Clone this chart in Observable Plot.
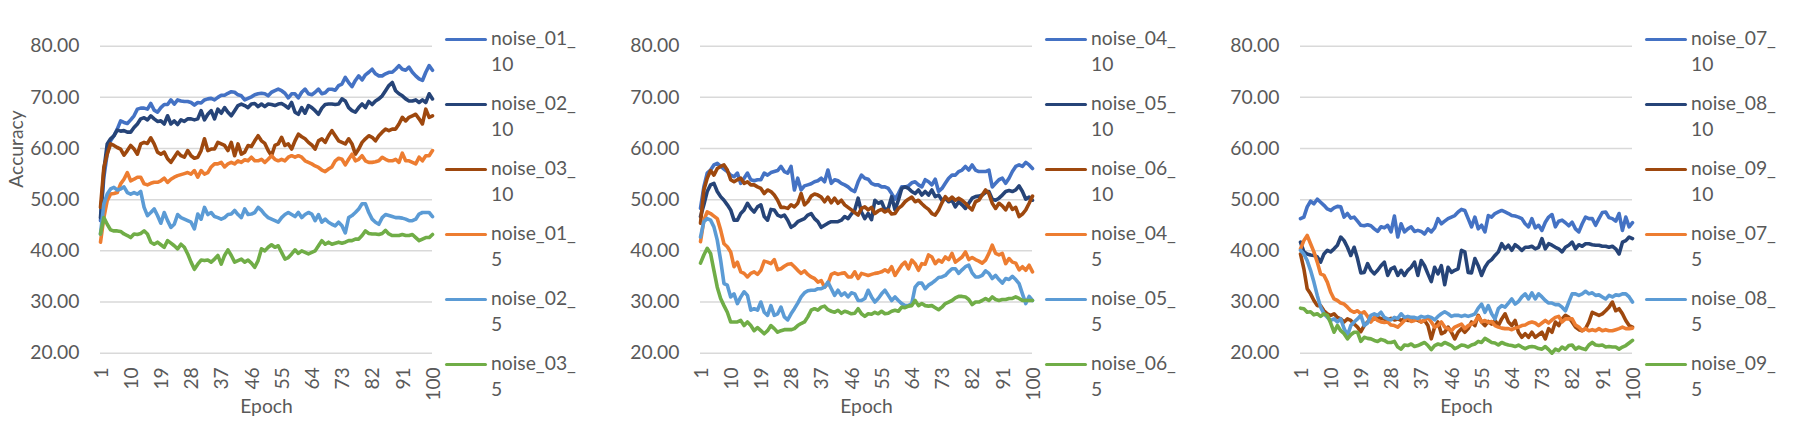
<!DOCTYPE html>
<html>
<head>
<meta charset="utf-8">
<script src="https://cdn.jsdelivr.net/npm/d3@7"></script>
<script src="https://cdn.jsdelivr.net/npm/@observablehq/plot@0.6"></script>
<style>
  html, body { margin: 0; padding: 0; background: #ffffff; }
  #wrap { position: relative; width: 1800px; height: 422px; display: flex; }
  .panel { position: relative; width: 600px; height: 422px; flex: none; }
  .panel svg { position: absolute; left: 0; top: 0; }
  .legend { position: absolute; left: 445px; top: 0; width: 155px; height: 422px; }
  .item { position: absolute; left: 0; width: 155px; height: 60px; }
  .sw { position: absolute; left: 0; top: 13px; width: 42px; height: 3.6px; border-radius: 2px; }
  .lab { position: absolute; left: 46px; top: 0; font-family: Lato, sans-serif; font-size: 19.3px; line-height: 26.5px; color: #595959; white-space: nowrap; }
</style>
</head>
<body>
<div id="wrap"></div>
<script>
const yTicks = [20, 30, 40, 50, 60, 70, 80];
const xTicks = [1, 10, 19, 28, 37, 46, 55, 64, 73, 82, 91, 100];
const colors = ["#4472C4", "#264478", "#9E480E", "#ED7D31", "#5B9BD5", "#70AD47"];

const panel1Names = ["noise_01_10", "noise_02_10", "noise_03_10", "noise_01_5", "noise_02_5", "noise_03_5"];
const panel2Names = ["noise_04_10", "noise_05_10", "noise_06_10", "noise_04_5", "noise_05_5", "noise_06_5"];
const panel3Names = ["noise_07_10", "noise_08_10", "noise_09_10", "noise_07_5", "noise_08_5", "noise_09_5"];

// Panel 1
const noise_01_10 = [45.9,54.4,59.0,61.5,62.5,63.8,65.4,65.1,64.9,65.6,
66.4,67.7,67.9,67.9,67.7,68.8,67.5,67.1,68.0,68.6,
68.6,69.5,68.7,69.5,69.3,69.2,69.2,69.0,68.5,69.0,
68.9,69.5,69.7,69.8,69.5,70.0,70.4,70.4,70.8,71.1,
71.0,70.5,70.3,69.5,69.8,70.1,70.5,70.7,70.8,70.7,
70.3,71.0,71.3,71.6,71.3,70.8,69.9,70.7,70.7,69.9,
71.0,71.6,70.7,70.5,71.0,71.6,70.7,70.9,71.6,71.6,
71.4,72.3,72.6,73.9,72.9,72.1,73.3,74.2,73.4,74.4,
74.9,75.5,74.6,74.2,74.2,74.6,74.9,74.9,75.5,76.2,
75.5,75.3,75.9,74.9,74.2,73.6,73.3,74.9,76.2,75.3];
const noise_02_10 = [46.5,55.7,60.9,61.9,62.5,63.6,63.4,63.5,63.2,63.2,
64.1,64.8,65.8,66.0,65.6,66.4,65.8,65.3,65.4,64.8,
66.4,64.8,65.4,64.7,65.6,65.3,65.8,65.8,65.6,65.8,
67.4,65.6,66.7,67.4,65.8,67.7,66.9,68.0,67.1,66.4,
67.4,68.4,68.7,68.4,68.0,68.7,68.8,68.2,68.7,68.2,
68.7,68.6,68.4,68.7,68.8,68.4,67.9,69.0,67.1,66.7,
68.0,66.9,68.4,68.0,67.4,66.7,67.9,68.6,68.7,68.7,
68.6,68.7,69.7,69.3,68.0,67.4,67.1,68.0,68.7,68.0,
69.2,68.6,69.3,69.7,70.3,71.3,72.3,72.9,71.3,70.7,
70.3,69.7,69.3,69.3,69.5,69.0,69.5,69.0,70.7,69.7];
const noise_03_10 = [48.5,56.3,58.9,60.9,60.6,60.2,59.9,58.7,59.6,60.6,
59.9,58.9,60.9,61.2,61.0,62.1,60.9,59.3,58.9,59.3,
58.0,57.3,58.3,59.3,58.6,58.3,59.6,58.6,58.1,58.3,
59.6,61.9,59.6,59.9,59.9,61.2,60.9,60.6,59.6,61.2,
58.6,60.9,58.9,59.3,60.6,60.4,61.5,62.5,61.5,61.0,
59.6,58.6,60.6,60.9,62.2,60.6,60.9,59.9,61.5,62.8,
62.3,61.9,61.2,60.7,59.9,61.5,61.9,61.2,62.5,63.5,
62.5,61.5,61.2,60.9,61.9,60.9,58.9,59.9,61.2,61.9,
62.5,62.2,61.5,62.5,63.2,63.8,63.5,63.8,63.8,64.8,
66.1,65.4,66.1,66.4,66.7,65.8,64.8,67.7,66.1,66.4];
const noise_01_5 = [41.7,46.5,49.8,51.1,51.2,51.4,53.1,54.0,55.3,53.7,
54.0,54.4,54.4,53.1,52.9,53.2,53.4,53.4,53.7,54.2,
53.4,54.0,54.4,54.7,54.9,55.1,55.3,55.0,55.7,54.4,
55.7,55.0,55.3,56.4,57.0,57.0,57.3,56.4,57.0,57.3,
57.0,57.6,57.3,57.8,57.6,58.3,57.6,57.6,57.9,57.3,
57.9,58.6,57.9,57.6,57.9,57.6,58.3,58.6,58.3,58.6,
58.3,57.6,57.3,57.0,56.6,56.3,55.8,55.5,56.0,56.4,
57.6,58.1,57.9,56.8,57.9,58.9,57.6,57.9,58.6,57.6,
57.3,57.3,57.4,57.6,58.3,57.9,57.6,57.6,57.9,57.3,
59.1,57.6,57.6,57.3,57.0,58.3,57.6,58.6,58.6,59.6];
const noise_02_5 = [43.3,49.2,51.1,52.1,52.4,51.9,52.1,52.5,51.4,51.1,
51.4,51.1,51.6,48.5,46.9,47.5,48.2,46.9,45.4,47.5,
45.9,44.6,45.2,47.1,46.5,46.2,45.9,45.6,44.3,47.2,
46.2,48.5,47.1,47.5,46.7,46.5,46.2,46.5,47.1,47.2,
47.9,47.1,46.5,48.2,47.1,47.2,47.5,48.5,47.9,47.1,
46.5,46.2,45.9,45.6,46.5,47.1,47.5,47.1,46.7,47.5,
46.5,47.1,47.5,47.2,45.9,47.1,45.6,46.2,45.6,45.2,
44.9,45.6,44.9,43.5,46.5,46.9,47.5,48.2,49.2,49.2,
47.5,46.2,45.6,45.2,46.5,47.1,46.9,46.7,46.5,46.5,
46.4,46.2,45.9,45.9,46.2,47.2,47.5,47.5,47.5,46.7];
const noise_03_5 = [43.3,46.5,45.2,44.1,43.9,43.9,43.8,43.3,43.0,42.6,
43.3,43.2,43.4,43.9,43.3,41.7,41.3,41.7,41.2,40.7,
42.0,41.5,41.0,40.4,41.3,40.7,39.4,37.8,36.4,37.4,
38.2,38.1,38.2,37.8,38.4,39.1,37.4,39.1,40.2,39.1,
37.8,38.1,38.4,37.8,38.2,37.6,36.8,38.1,40.4,40.0,
40.7,41.2,40.7,41.0,39.7,38.4,38.7,39.4,40.2,39.5,
40.0,39.7,39.4,39.7,40.0,41.0,42.0,41.3,41.7,41.3,
41.5,41.7,41.5,41.7,42.0,42.0,42.3,42.3,43.0,43.9,
43.4,43.3,43.3,43.2,43.4,44.0,43.3,43.0,43.0,43.0,
43.2,43.0,43.0,43.2,42.6,42.0,42.3,42.6,42.6,43.2];

// Panel 2
const noise_04_10 = [48.3,52.5,55.2,55.8,56.8,57.1,56.5,56.0,55.5,54.8,
54.5,55.2,53.2,54.2,55.2,53.9,53.7,53.9,53.9,55.2,
54.8,55.3,55.5,55.7,56.5,55.5,55.2,56.5,51.9,54.2,
51.9,52.7,52.9,53.1,53.5,53.7,54.2,53.5,55.8,53.2,
53.9,53.7,53.2,52.9,52.5,51.9,51.6,53.5,54.8,54.2,
54.0,53.2,52.9,52.9,52.5,52.5,52.2,51.2,50.1,51.2,
52.5,52.5,52.7,53.3,53.5,52.9,52.5,53.9,53.5,52.9,
54.0,51.6,52.2,53.2,54.2,54.8,54.8,55.5,55.8,56.5,
55.8,56.8,55.8,55.5,55.5,55.5,55.8,52.5,53.2,53.9,
54.2,53.2,54.2,55.5,56.5,56.8,56.5,57.3,56.8,56.1];
const noise_05_10 = [46.7,49.0,51.6,52.9,53.2,51.6,50.6,49.9,49.0,48.0,
46.0,46.0,47.3,48.0,49.3,48.3,47.6,48.6,49.0,46.7,
46.0,48.1,48.0,47.0,46.7,47.0,46.0,44.6,45.0,45.7,
46.0,46.3,47.0,47.3,46.3,45.7,44.6,45.0,45.4,45.7,
45.7,45.7,46.0,46.7,46.3,47.2,48.0,50.3,47.6,46.3,
47.3,46.1,49.9,49.3,49.6,48.0,48.3,50.6,48.0,49.9,
52.2,52.5,52.2,51.6,51.2,51.9,50.9,51.6,50.9,51.9,
50.6,50.9,49.9,50.3,49.6,49.9,48.6,49.6,49.0,48.3,
49.3,50.3,50.6,50.7,50.9,51.4,51.6,50.1,49.9,50.3,
50.9,51.6,51.8,51.6,51.9,52.7,51.6,50.1,50.5,49.9];
const noise_06_10 = [45.4,51.9,54.2,55.7,54.8,56.1,56.5,56.8,55.8,53.9,
53.5,53.9,54.2,53.2,53.5,52.9,52.9,52.5,52.2,51.2,
51.9,51.6,50.9,49.9,48.5,48.5,48.3,49.0,48.6,49.3,
51.2,49.0,49.6,50.7,51.1,50.9,50.5,49.6,50.5,49.4,
50.3,49.3,49.9,49.0,48.5,48.0,47.5,47.0,48.3,48.6,
48.0,48.5,47.3,47.8,48.1,47.6,48.0,47.2,47.3,48.3,
48.8,49.6,50.1,50.5,49.6,49.9,49.2,48.6,48.1,47.3,
47.0,48.0,49.4,50.6,49.9,50.5,49.9,50.3,49.9,49.3,
48.6,48.0,49.6,49.9,50.9,51.9,51.2,49.3,48.3,49.3,
48.8,48.0,49.3,48.1,48.5,46.7,47.2,48.0,49.3,50.7];
const noise_04_5 = [41.8,46.0,47.6,47.3,46.8,46.3,44.1,41.4,40.8,39.8,
36.9,37.8,35.9,35.6,34.9,35.6,35.9,35.4,36.2,38.0,
37.8,37.5,38.3,36.3,36.5,37.0,37.4,37.5,36.9,36.2,
35.6,36.1,35.4,34.9,34.6,33.9,34.2,32.9,33.6,35.4,
35.7,35.4,35.6,35.7,34.9,34.9,35.9,34.6,35.6,35.4,
35.2,35.4,35.6,35.7,35.9,36.3,35.9,36.9,35.2,36.2,
37.2,37.8,36.5,38.2,37.5,36.2,37.5,37.4,39.2,38.8,
37.5,38.2,37.8,38.8,38.3,39.5,37.8,38.3,38.8,39.8,
38.3,38.7,38.3,38.0,37.6,38.2,39.5,41.1,39.5,39.2,
39.5,37.5,38.5,37.8,37.6,36.3,36.9,36.2,37.2,35.9];
const noise_05_5 = [42.7,45.7,46.3,46.0,44.7,42.1,38.2,33.6,33.3,31.0,
31.6,29.7,31.0,32.0,31.3,28.4,28.7,28.4,30.0,28.0,
27.4,29.3,27.4,27.7,29.0,27.1,26.5,27.7,28.7,29.8,
31.0,31.8,32.2,32.3,32.3,32.6,32.6,32.9,33.9,32.6,
31.3,32.3,31.3,31.8,31.0,31.8,31.6,30.3,30.3,30.7,
32.3,31.0,30.0,30.7,31.6,32.3,31.3,30.3,31.0,30.3,
29.7,29.3,29.3,29.7,32.9,33.7,33.7,32.6,33.3,33.7,
34.2,34.8,34.9,35.2,35.9,36.5,36.5,35.6,36.3,36.9,
37.2,35.7,34.9,34.9,35.2,36.1,35.6,34.6,35.2,34.4,
33.7,34.6,34.4,35.0,34.4,33.6,31.6,29.7,31.1,30.3];
const noise_06_5 = [37.6,39.2,40.5,39.5,36.2,32.9,30.7,29.3,28.0,26.1,
26.1,26.1,26.4,25.4,26.1,25.4,24.4,25.0,24.4,23.8,
24.4,25.4,24.8,24.1,24.4,24.6,24.6,24.6,24.8,25.4,
25.8,26.1,27.1,28.4,28.7,28.4,29.0,29.2,28.5,28.2,
28.0,28.4,27.8,28.2,28.0,27.7,27.8,28.7,27.7,27.2,
27.7,27.6,28.0,27.7,28.2,27.7,27.8,28.2,28.4,28.2,
29.0,28.9,29.2,29.3,30.3,29.3,29.7,29.3,29.2,29.3,
28.9,28.5,29.0,29.7,30.0,30.3,30.8,31.1,31.1,31.0,
30.5,29.5,30.0,30.0,30.3,30.7,30.3,31.0,30.5,30.3,
30.5,30.5,30.7,30.7,31.0,30.7,30.3,30.3,30.3,30.3];

// Panel 3
const noise_07_10 = [46.3,46.6,48.6,49.7,49.2,50.1,49.5,48.9,48.2,47.9,
48.4,48.7,48.6,46.6,47.3,46.4,46.6,45.8,45.0,44.9,
45.1,44.9,44.3,43.8,44.7,44.5,45.0,43.7,46.8,42.7,
45.3,43.7,44.3,44.7,43.8,44.0,43.8,43.3,44.3,43.7,
44.5,46.3,45.3,45.8,46.3,46.6,46.9,47.6,48.1,47.9,
46.3,44.7,46.6,44.3,45.0,43.7,46.9,46.6,47.3,47.6,
47.9,47.6,47.3,46.9,46.8,46.6,46.3,45.3,44.7,46.3,
44.5,45.0,44.0,45.6,46.6,47.1,44.7,45.8,46.0,45.5,
44.9,45.6,44.3,43.7,45.3,46.6,46.3,46.3,45.0,46.3,
47.5,47.6,46.5,46.3,45.8,47.3,44.0,46.6,44.7,45.5];
const noise_08_10 = [41.7,39.8,39.4,39.2,39.1,38.8,37.8,39.4,40.1,39.8,
40.4,41.1,42.7,42.0,40.7,39.1,40.7,38.5,35.7,35.8,
37.5,36.2,35.5,36.2,37.1,37.8,35.2,36.5,36.8,35.2,
36.2,35.2,36.2,36.8,37.8,35.2,38.1,37.1,35.5,34.0,
36.8,35.5,37.1,33.4,36.8,35.8,36.2,36.5,40.1,39.8,
35.8,35.7,38.5,37.1,35.2,36.8,37.8,38.3,39.1,39.8,
41.4,40.4,41.1,40.1,41.2,40.7,40.1,40.7,40.7,40.9,
40.4,40.7,42.4,40.4,41.4,41.1,40.7,40.4,39.8,40.7,
41.1,41.7,40.4,41.2,40.9,41.4,41.4,41.2,41.1,41.1,
40.9,40.9,40.7,40.9,40.4,39.4,41.7,42.0,42.7,42.4];
const noise_09_10 = [39.4,36.5,32.6,31.6,30.3,29.3,29.3,28.3,27.7,27.4,
27.7,27.0,26.7,26.1,26.7,26.4,25.7,25.1,24.2,25.4,
26.1,26.4,26.7,27.0,26.8,26.7,26.5,26.8,26.5,26.7,
26.4,26.7,26.4,26.4,26.7,26.4,26.1,26.4,25.4,22.8,
25.1,26.1,23.8,24.1,25.1,24.1,22.8,24.1,24.8,24.1,
24.8,26.1,25.4,27.4,26.1,25.4,26.2,25.7,26.4,25.4,
26.7,27.7,26.1,25.4,26.4,24.1,23.1,23.8,23.1,24.1,
23.1,23.6,24.1,22.8,24.8,24.1,26.1,25.4,26.7,27.4,
27.0,26.1,25.1,24.6,24.4,24.8,26.1,28.0,27.7,27.4,
27.7,28.3,29.0,30.0,28.3,28.7,27.7,26.4,25.4,25.1];
const noise_07_5 = [40.4,42.0,43.0,41.4,39.8,37.8,35.5,35.2,33.9,31.9,
30.6,30.3,29.8,29.6,29.0,28.3,28.0,28.3,27.7,28.1,
27.2,26.1,27.0,26.4,26.1,26.0,26.1,25.5,25.4,25.1,
25.7,26.4,27.0,26.2,26.4,26.7,26.1,26.4,27.0,26.1,
25.1,25.4,26.1,25.1,24.8,24.4,25.1,25.4,25.7,24.8,
25.4,25.7,26.1,27.2,26.1,26.4,26.0,26.2,25.4,25.1,
24.9,24.8,24.8,24.6,24.9,25.1,25.4,25.5,25.9,26.1,
25.9,25.4,25.9,26.4,25.9,26.5,27.0,27.2,26.1,26.7,
26.7,26.7,25.5,25.1,24.4,24.8,24.4,24.6,24.4,24.8,
24.4,24.6,24.4,24.4,24.6,24.8,25.1,24.8,24.8,24.9];
const noise_08_5 = [40.1,39.4,38.1,36.2,33.9,31.3,29.0,27.7,27.0,26.4,
26.7,26.1,26.7,24.8,23.5,25.4,26.1,26.7,27.4,25.4,
25.9,27.4,27.7,27.4,28.0,27.0,26.7,26.5,27.0,26.8,
27.7,27.0,27.2,27.0,27.0,26.8,27.2,27.0,27.2,27.0,
26.5,27.2,27.7,28.1,27.7,27.2,27.4,27.4,27.2,27.4,
27.2,27.4,27.7,28.8,29.6,28.0,29.3,27.7,26.7,28.7,
29.3,29.0,29.8,30.6,29.6,30.1,31.0,31.6,30.6,31.8,
30.6,31.6,31.0,30.3,29.8,29.8,29.5,29.5,29.0,28.3,
30.0,31.6,31.6,31.3,31.6,32.1,31.6,31.8,31.3,31.4,
31.0,30.6,31.3,31.0,31.4,31.3,31.6,31.6,31.0,30.0];
const noise_09_5 = [28.8,28.7,28.0,28.1,27.5,27.7,27.2,27.7,27.4,25.9,
24.1,25.4,24.4,23.8,22.8,23.6,24.1,24.1,22.3,23.1,
22.9,22.8,22.5,22.3,22.7,22.5,22.1,22.1,22.3,21.2,
20.8,21.6,21.5,21.8,21.3,21.5,21.8,22.1,21.5,20.7,
21.5,21.8,21.6,22.1,21.8,21.5,20.9,21.2,21.6,21.5,
21.2,21.6,21.8,22.3,22.1,22.9,22.5,22.1,22.0,21.6,
22.1,21.8,21.6,21.5,21.3,21.6,21.2,20.9,21.2,21.3,
21.2,20.9,20.8,21.3,20.7,20.0,20.8,20.5,21.2,20.8,
21.5,21.6,20.8,21.2,20.9,20.7,21.6,22.1,21.6,21.5,
21.6,21.2,21.3,21.2,21.2,20.8,21.2,21.5,22.0,22.5];

const panels = [
  {names: panel1Names, series: [noise_01_10, noise_02_10, noise_03_10, noise_01_5, noise_02_5, noise_03_5], yLabel: "Accuracy"},
  {names: panel2Names, series: [noise_04_10, noise_05_10, noise_06_10, noise_04_5, noise_05_5, noise_06_5], yLabel: null},
  {names: panel3Names, series: [noise_07_10, noise_08_10, noise_09_10, noise_07_5, noise_08_5, noise_09_5], yLabel: null}
];

const wrap = document.getElementById("wrap");

panels.forEach(p => {
  const rows = p.series.flatMap((vals, s) => vals.map((v, i) => ({epoch: i + 1, acc: v, series: p.names[s]})));
  const marks = [
    Plot.gridY(yTicks, {stroke: "#d9d9d9", strokeOpacity: 1, strokeWidth: 1.5}),
    Plot.axisY(yTicks, {tickSize: 0, tickPadding: 21, tickFormat: d3.format(".2f"), label: null}),
    Plot.axisX(xTicks, {tickSize: 0, tickPadding: 14, tickRotate: -90, label: null, dx: 1}),
    Plot.text(["Epoch"], {frameAnchor: "bottom", dy: 60, lineAnchor: "bottom", fontSize: 19.3}),
    ...p.names.map((n, s) => Plot.lineY(rows.filter(r => r.series === n), {
      x: "epoch", y: "acc", stroke: colors[s], strokeWidth: 3.6,
      strokeLinejoin: "round", strokeLinecap: "round"
    }))
  ];
  if (p.yLabel) {
    marks.push(Plot.text([p.yLabel], {frameAnchor: "left", rotate: -90, dx: -83.6, dy: -12, fontSize: 19.3}));
  }
  const svg = Plot.plot({
    width: 440,
    height: 422,
    marginLeft: 100,
    marginRight: 8,
    marginTop: 45.7,
    marginBottom: 69.3,
    x: {type: "linear", domain: [1, 100]},
    y: {type: "linear", domain: [20, 80]},
    style: "font-family: Lato, sans-serif; font-size: 19.3px; color: #595959; background: transparent; overflow: visible;",
    marks
  });
  const panel = document.createElement("div");
  panel.className = "panel";
  panel.appendChild(svg);

  const legend = document.createElement("div");
  legend.className = "legend";
  p.names.forEach((n, s) => {
    const item = document.createElement("div");
    item.className = "item";
    item.style.top = (24.6 + s * 65) + "px";
    const sw = document.createElement("div");
    sw.className = "sw";
    sw.style.background = colors[s];
    const lab = document.createElement("div");
    lab.className = "lab";
    const cut = n.lastIndexOf("_") + 1;
    lab.appendChild(document.createTextNode(n.slice(0, cut)));
    lab.appendChild(document.createElement("br"));
    lab.appendChild(document.createTextNode(n.slice(cut)));
    item.appendChild(sw);
    item.appendChild(lab);
    legend.appendChild(item);
  });
  panel.appendChild(legend);
  wrap.appendChild(panel);
});
</script>
</body>
</html>
